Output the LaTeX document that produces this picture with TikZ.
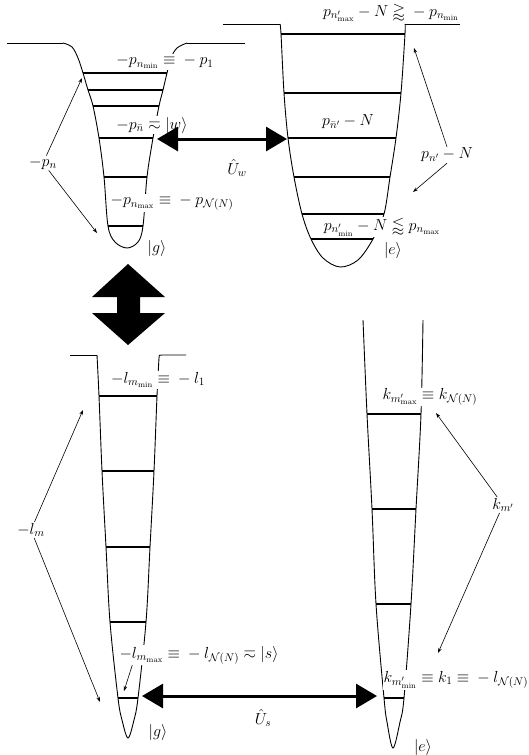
\RequirePackage{fix-cm}
\documentclass[tikz,border=0pt]{standalone}
\usepackage{amsmath,amssymb}
\usetikzlibrary{arrows.meta}
\begin{document}
\begin{tikzpicture}[x=1pt,y=-1pt,
  wall/.style={line width=0.9pt},
  lvl/.style={line width=1.6pt},
  lbl/.style={font=\fontsize{16}{19}\selectfont, inner sep=1pt},
  lblw/.style={lbl, fill=white},
  thinarr/.style={line width=0.6pt, -{Stealth[length=5pt,width=3.5pt]}},
  bigarr/.style={line width=3pt, {Triangle[length=21pt,width=24pt]}-{Triangle[length=21pt,width=24pt]}},
  blockarr/.style={fill=black, draw=none},
]
\useasboundingbox (0,0) rectangle (529,755);

% ---------- top-left well ----------
\draw[wall] (7,43) -- (63,43);
\draw[wall] plot[smooth, tension=0.55] coordinates {(63,43) (72,47) (78,58) (83,73) (88,90) (93,106) (99,138) (104,177) (108,226) (115,242) (127,248) (138,242) (143,226) (147,177) (153,138) (159,106) (163,90) (167,73) (171,58) (177,48) (187,43)};
\draw[wall] (187,43) -- (245,43);
\draw[lvl] (83,73) -- (167,73);
\draw[lvl] (88,90) -- (163,90);
\draw[lvl] (93,106) -- (159,106);
\draw[lvl] (99,138) -- (153,138);
\draw[lvl] (104,177) -- (147,177);
\draw[lvl] (108,226) -- (143,226);

% ---------- top-right well ----------
\draw[wall] (223,24) -- (280,24);
\draw[wall] plot[smooth, tension=0.55] coordinates {(280,24) (281,34) (284,93) (288,138) (294,177) (302,214) (311,239) (323,258) (340,267) (358,260) (373,239) (384,214) (390,177) (396,138) (401,93) (405,34) (405,24)};
\draw[wall] (405,24) -- (460,24);
\draw[lvl] (281,34) -- (405,34);
\draw[lvl] (284,93) -- (401,93);
\draw[lvl] (288,138) -- (396,138);
\draw[lvl] (294,177) -- (390,177);
\draw[lvl] (302,214) -- (384,214);
\draw[lvl] (311,239) -- (373,239);

% ---------- block double arrow ----------
\fill[blockarr] (128,264) -- (165,297) -- (140,297) -- (140,313) -- (165,313) -- (128,345)
  -- (92,313) -- (117,313) -- (117,297) -- (92,297) -- cycle;

% ---------- bottom-left well ----------
\draw[wall] (70,355) -- (97,355);
\draw[wall] plot[smooth, tension=0.55] coordinates {(97,355) (99,396) (102,471) (106,547) (110,622) (118,698) (122,720) (128,738) (134,720) (138,698) (146,622) (150,547) (154,471) (157,396) (159,358)};
\draw[wall] (159,358) .. controls (159,355) .. (162,355) -- (186,355);
\draw[lvl] (99,396) -- (157,396);
\draw[lvl] (102,471) -- (154,471);
\draw[lvl] (106,547) -- (150,547);
\draw[lvl] (110,622) -- (146,622);
\draw[lvl] (118,698) -- (138,698);

% ---------- bottom-right well ----------
\draw[wall] plot[smooth, tension=0.55] coordinates {(363,320) (367,414) (372,509) (376,604) (384,698) (387,722) (393,748) (400,722) (404,698) (411,604) (416,509) (421,414) (423,320)};
\draw[lvl] (367,414) -- (421,414);
\draw[lvl] (372,509) -- (416,509);
\draw[lvl] (376,604) -- (411,604);
\draw[lvl] (384,698) -- (404,698);

% ---------- labels ----------
\node[lblw] (pmin) at (165,62) {$-p_{n_{\min}}\equiv{}-p_1$};
\node[lblw] (pbar) at (152,125) {$-p_{\bar n}\eqsim|w\rangle$};
\node[lblw] (pmax) at (172,203) {$-p_{n_{\max}}\equiv{}-p_{\mathcal{N}(N)}$};
\node[lbl] (g1) at (157,248) {$|g\rangle$};
\node[lbl] (pn) at (43,163) {$-p_n$};
\node[lbl] (Uw) at (237,168) {$\hat U_w$};

\node[lbl] (ptop) at (391,13) {$p_{n'_{\max}}-N\gtrapprox{}-p_{n_{\min}}$};
\node[lbl] (pbarp) at (348,122) {$p_{\bar n'}-N$};
\node[lbl] (pnN) at (447,155) {$p_{n'}-N$};
\node[lblw] (pbot) at (382,227) {$p_{n'_{\min}}-N\lessapprox p_{n_{\max}}$};
\node[lbl] (e1) at (393,250) {$|e\rangle$};

\node[lblw] (lmin) at (158,380) {$-l_{m_{\min}}\equiv{}-l_1$};
\node[lblw] (kmax) at (430,397) {$k_{m'_{\max}}\equiv k_{\mathcal{N}(N)}$};
\node[lbl] (km) at (503,505) {$k_{m'}$};
\node[lbl] (lm) at (31,530) {$-l_m$};
\node[lblw] (lmax) at (199,655) {$-l_{m_{\max}}\equiv{}-l_{\mathcal{N}(N)}\eqsim|s\rangle$};
\node[lbl] (g2) at (158,732) {$|g\rangle$};
\node[lbl] (Us) at (263,718) {$\hat U_s$};
\node[lblw] (kmin) at (456,680) {$k_{m'_{\min}}\equiv k_1\equiv{}-l_{\mathcal{N}(N)}$};
\node[lbl] (e2) at (423,747) {$|e\rangle$};

% ---------- arrow targets ----------
\coordinate (t1) at (82,78);
\coordinate (t2) at (97,233);
\coordinate (t3) at (414,48);
\coordinate (t4) at (413,192);
\coordinate (t5) at (83,410);
\coordinate (t6) at (100,702);
\coordinate (t7) at (124,691);
\coordinate (t8) at (436,413);
\coordinate (t9) at (438,653);
\coordinate (wL) at (157,139);
\coordinate (wR) at (287,139);
\coordinate (sL) at (142,696);
\coordinate (sR) at (377,696);

% ---------- thin arrows ----------
\draw[thinarr] (pn) -- (t1);
\draw[thinarr] (pn) -- (t2);
\draw[thinarr] (pnN.north) -- (t3);
\draw[thinarr] (pnN.south) -- (t4);
\draw[thinarr] (lm) -- (t5);
\draw[thinarr] (lm) -- (t6);
\draw[thinarr] ([xshift=14pt]lmax.south west) -- (t7);
\draw[thinarr] (km) -- (t8);
\draw[thinarr] (km) -- (t9);

% ---------- thick double arrows ----------
\draw[bigarr] (wL) -- (wR);
\draw[bigarr] (sL) -- (sR);
\end{tikzpicture}
\end{document}
